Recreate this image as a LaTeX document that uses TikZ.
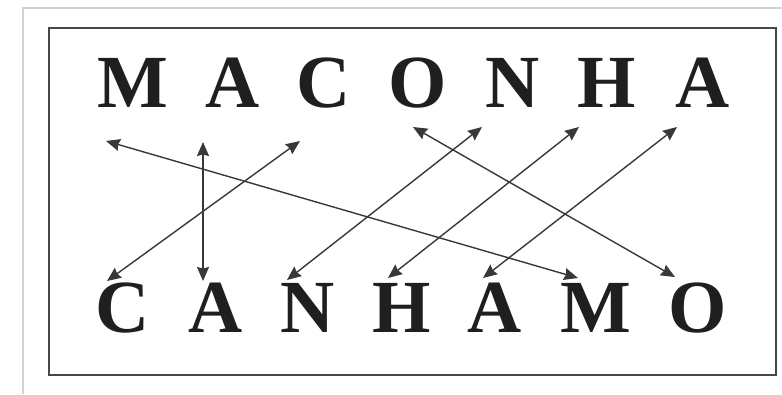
\documentclass[tikz,border=0pt]{standalone}
\usepackage{fontspec}
\setmainfont{Liberation Serif}
\usetikzlibrary{arrows.meta}

\begin{document}
\begin{tikzpicture}[x=1pt, y=-1pt, letra/.style={inner sep=0pt, anchor=base, text=black!88, font=\fontsize{75}{80}\selectfont\bfseries}, liga/.style={{Stealth[length=14pt,width=12pt,inset=1.5pt]}-{Stealth[length=14pt,width=12pt,inset=1.5pt]}, line width=1.4pt, draw=black!78}
]
  \useasboundingbox (0,0) rectangle (782,394);
  % page edge and frame
  \draw[black!18, line width=2pt] (23,394) -- (23,8) -- (782,8);
  \draw[black!72, line width=1.3pt] (49,28) rectangle (776,375);
  % top word
  \node[letra] (tM) at (133,107) {M};
  \node[letra] (tA) at (233,107) {A};
  \node[letra] (tC) at (324,107) {C};
  \node[letra] (tO) at (418,107) {O};
  \node[letra] (tN) at (513,107) {N};
  \node[letra] (tH) at (607,107) {H};
  \node[letra] (tA2) at (703,107) {A};
  % bottom word
  \node[letra] (bC) at (123,332) {C};
  \node[letra] (bA) at (216,332) {A};
  \node[letra] (bN) at (308,332) {N};
  \node[letra] (bH) at (402,332) {H};
  \node[letra] (bA2) at (495,332) {A};
  \node[letra] (bM) at (596,332) {M};
  \node[letra] (bO) at (698,332) {O};
  % arrow ends
  \coordinate (uM) at (106,141);
  \coordinate (uA) at (203,142);
  \coordinate (uC) at (300,141);
  \coordinate (uO) at (413,127);
  \coordinate (uN) at (482,127);
  \coordinate (uH) at (579,127);
  \coordinate (uA2) at (677,127);
  \coordinate (dC) at (107,281);
  \coordinate (dA) at (203,281);
  \coordinate (dN) at (287,280);
  \coordinate (dH) at (388,278);
  \coordinate (dA2) at (483,278);
  \coordinate (dM) at (578,278);
  \coordinate (dO) at (675,277);
  \draw[liga] (uM) -- (dM);
  \draw[liga] (uA) -- (dA);
  \draw[liga] (uC) -- (dC);
  \draw[liga] (uO) -- (dO);
  \draw[liga] (uN) -- (dN);
  \draw[liga] (uH) -- (dH);
  \draw[liga] (uA2) -- (dA2);
\end{tikzpicture}
\end{document}
